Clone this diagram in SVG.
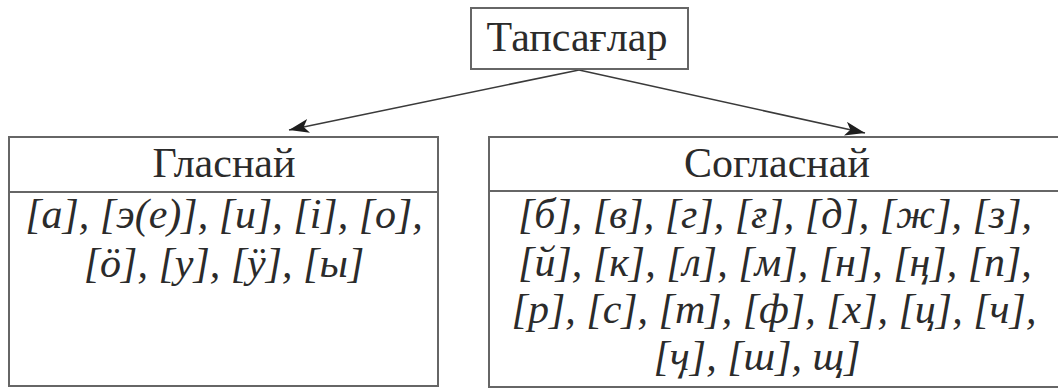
<svg xmlns="http://www.w3.org/2000/svg" width="1058" height="390" viewBox="0 0 1058 390">
  <style>
    .box { fill: #ffffff; stroke: #666666; stroke-width: 2; }
    .div { stroke: #666666; stroke-width: 2; }
    .hd { font-size: 42px; fill: #2b2b2b; text-anchor: middle; }
    .it { font-style: italic; font-size: 42px; fill: #2b2b2b; text-anchor: middle; }
    .conn { stroke: #3a3a3a; stroke-width: 1.6; fill: none; }
  </style>
  <defs>
    <marker id="arrow" markerUnits="userSpaceOnUse" markerWidth="22" markerHeight="14" refX="20" refY="7" orient="auto">
      <path d="M0,0 L20,7 L0,14 L5,7 Z" fill="#1e1e1e"/>
    </marker>
  </defs>
  <rect width="1058" height="390" fill="#ffffff"/>
  <g id="connectors">
    <line class="conn" x1="579" y1="70" x2="289" y2="130" marker-end="url(#arrow)"/>
    <line class="conn" x1="579" y1="70" x2="865" y2="133" marker-end="url(#arrow)"/>
  </g>
  <g id="node-tapsaglar">
    <rect class="box" x="471" y="8" width="217" height="61"/>
    <text class="hd" font-family="Liberation Serif" x="577" y="51">Тапсағлар</text>
  </g>
  <g id="node-glasnai">
    <rect class="box" x="9" y="137" width="429" height="249"/>
    <line class="div" x1="9" y1="192" x2="438" y2="192"/>
    <text class="hd" font-family="Liberation Serif" x="224" y="177">Гласнай</text>
    <text class="it" font-family="Liberation Serif" x="224" y="228">[а], [э(е)], [и], [і], [о],</text>
    <text class="it" font-family="Liberation Serif" x="224" y="277">[ӧ], [у], [ӱ], [ы]</text>
  </g>
  <g id="node-soglasnai">
    <rect class="box" x="489" y="137" width="580" height="250"/>
    <line class="div" x1="489" y1="191" x2="1069" y2="191"/>
    <text class="hd" font-family="Liberation Serif" x="777" y="177">Согласнай</text>
    <text class="it" font-family="Liberation Serif" x="775" y="228">[б], [в], [г], [ғ], [д], [ж], [з],</text>
    <text class="it" font-family="Liberation Serif" x="775" y="276">[й], [к], [л], [м], [н], [ң], [п],</text>
    <text class="it" font-family="Liberation Serif" x="774" y="323">[р], [с], [т], [ф], [х], [ц], [ч],</text>
    <text class="it" font-family="Liberation Serif" x="757" y="370">[ӌ], [ш], щ]</text>
  </g>
</svg>
